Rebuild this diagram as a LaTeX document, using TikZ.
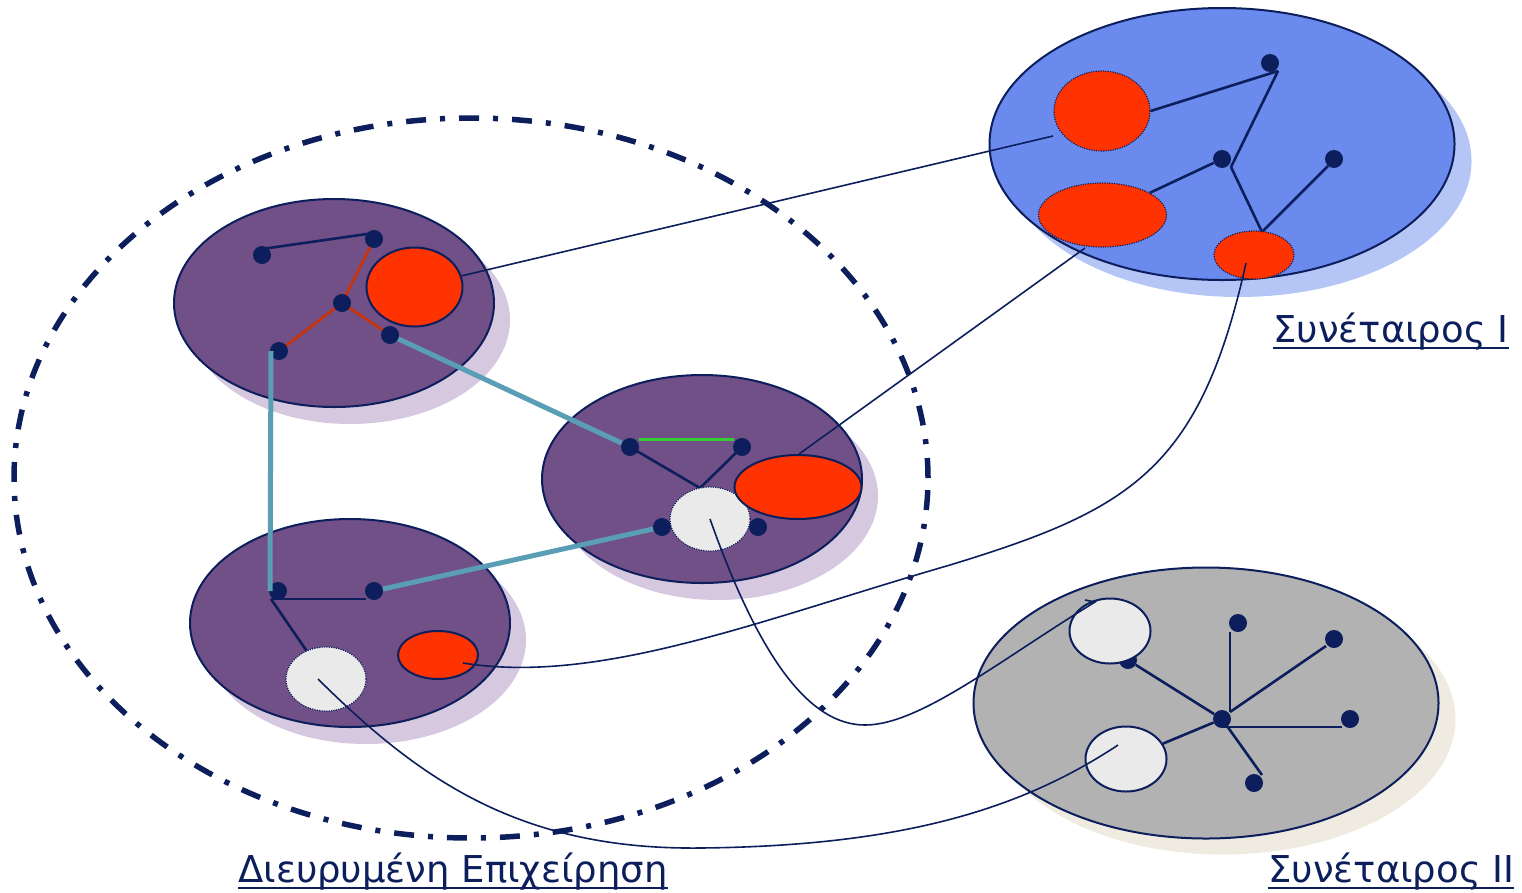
\documentclass[tikz,border=0pt]{standalone}
\usepackage{fontspec}
\setmainfont{DejaVu Sans}
\usetikzlibrary{shapes.geometric,shadows}
\definecolor{navy}{RGB}{12,30,92}
\definecolor{purp}{RGB}{113,79,135}
\definecolor{purpsh}{RGB}{214,200,223}
\definecolor{redf}{RGB}{255,51,0}
\definecolor{redl}{RGB}{204,51,0}
\definecolor{cyanl}{RGB}{90,158,181}
\definecolor{greenl}{RGB}{51,204,51}
\definecolor{bluef}{RGB}{106,138,238}
\definecolor{bluesh}{RGB}{180,197,246}
\definecolor{greyf}{RGB}{178,178,178}
\definecolor{greysh}{RGB}{239,235,224}
\definecolor{whitef}{RGB}{234,234,234}
\begin{document}
\begin{tikzpicture}[x=1pt,y=-1pt,
  blob/.style={ellipse, draw=navy, line width=2pt, inner sep=0pt},
  purpblob/.style={blob, fill=purp, minimum width=320pt, minimum height=208pt,
     drop shadow={shadow xshift=16pt, shadow yshift=-17pt, fill=purpsh, opacity=1}},
  dotted blob/.style={ellipse, draw=navy, line width=1.2pt, dash pattern=on 1.2pt off 1.2pt, inner sep=0pt},
  dotn/.style={circle, fill=navy, inner sep=0pt, minimum size=18pt},
  inl/.style={navy, line width=2.6pt},
  redln/.style={redl, line width=2.6pt},
  cyl/.style={cyanl, line width=5pt},
  conn/.style={navy, line width=1.6pt},
  lbl/.style={text=navy, font=\fontsize{37}{40}\selectfont, inner sep=0pt, anchor=base west},
  uline/.style={navy, line width=2.5pt}]
\useasboundingbox (0,0) rectangle (1522,892);

% big dash-dot ellipse
\node[ellipse, draw=navy, line width=5.5pt, dash pattern=on 20pt off 14pt on 5pt off 14pt,
      minimum width=914pt, minimum height=720pt, inner sep=0pt] (ent) at (471,478) {};

% ---------- ellipses
\node[purpblob] (tl) at (334,303) {};
\node[purpblob] (mid) at (702,479) {};
\node[purpblob] (bl) at (350,623) {};
\node[blob, fill=bluef, minimum width=465pt, minimum height=272pt,
      drop shadow={shadow xshift=17pt, shadow yshift=-17pt, fill=bluesh, opacity=1}] (tr) at (1222,144) {};
\node[blob, fill=greyf, minimum width=465pt, minimum height=271pt,
      drop shadow={shadow xshift=17pt, shadow yshift=-16pt, fill=greysh, opacity=1}] (br) at (1206,703) {};

% ---------- top-left group
\coordinate (t1) at (262,255);
\coordinate (t2) at (374,239);
\coordinate (t3) at (342,303);
\coordinate (t4) at (390,335);
\coordinate (t5) at (279,351);
\draw[inl] ([yshift=6pt]t1) -- ([yshift=6pt]t2);
\draw[redln] (t2) -- (t3);
\draw[redln] (t3) -- (t5);
\draw[redln] (t3) -- (t4);
\node[blob, fill=redf, minimum width=96pt, minimum height=79pt] (tlred) at (414.5,287) {};
\foreach \n in {t1,t2,t3,t4,t5} \node[dotn] (d\n) at (\n) {};

% ---------- middle group
\coordinate (m1) at (630,447);
\coordinate (m2) at (742,447);
\coordinate (m3) at (662,527);
\coordinate (m4) at (758,527);
\coordinate (mj) at (700,488);
\draw[greenl, line width=3pt] ([xshift=9pt,yshift=8pt]m1) -- ([xshift=-8pt,yshift=8pt]m2);
\draw[inl] (m1) -- (mj);
\draw[inl] (m2) -- (mj);
\foreach \n in {m1,m2,m3,m4} \node[dotn] (d\n) at (\n) {};
\node[dotted blob, fill=whitef, minimum width=80pt, minimum height=64pt] (mwhite) at (710,519) {};
\node[blob, fill=redf, minimum width=127pt, minimum height=64pt] (midred) at (798,487) {};

% ---------- bottom-left group
\coordinate (b1) at (278,591);
\coordinate (b2) at (374,591);
\draw[inl] ([xshift=-7pt,yshift=-8pt]b1) -- ([xshift=-8pt,yshift=-8pt]b2);
\node[dotted blob, fill=whitef, minimum width=80pt, minimum height=64pt] (bwhite) at (326,679) {};
\draw[inl] ([xshift=-7pt,yshift=-8pt]b1) -- (bwhite);
\node[blob, fill=redf, minimum width=80pt, minimum height=48pt] (bred) at (438,655) {};
\foreach \n in {b1,b2} \node[dotn] (d\n) at (\n) {};

% cyan links
\draw[cyl] (dt4) -- (dm1);
\draw[cyl] ([xshift=-8pt]dt5.center) -- ([xshift=-8pt]db1.center);
\draw[cyl] (db2) -- (dm3);

% ---------- top-right group
\node[dotn] (r1) at (1270,63) {};
\node[dotn] (r2) at (1222,159) {};
\node[dotn] (r3) at (1334,159) {};
\coordinate (rj) at (1231,167);
\coordinate (rc) at (1262,232);
\draw[inl] ([xshift=8pt,yshift=-8pt]r1.center) -- (rj);
\draw[inl] (rj) -- (rc);
\draw[inl] (rc) -- ([xshift=-6pt,yshift=-7pt]r3.center);
\node[dotted blob, fill=redf, minimum width=96pt, minimum height=80pt] (trA) at (1102,111) {};
\node[dotted blob, fill=redf, minimum width=128pt, minimum height=64pt] (trB) at (1102.5,215) {};
\node[dotted blob, fill=redf, minimum width=80pt, minimum height=48pt] (trC) at (1254,255) {};
\draw[inl] (trA.east) -- ([xshift=8pt,yshift=-8pt]r1.center);
\draw[inl] (trB) -- (r2);

% ---------- bottom-right group
\node[dotn] (h) at (1222,719) {};
\node[dotn] (g0) at (1128,660) {};
\node[dotn] (g1) at (1238,623) {};
\node[dotn] (g2) at (1334,639) {};
\node[dotn] (g3) at (1350,719) {};
\node[dotn] (g4) at (1254,783) {};
\draw[inl] (g0) -- (h);
\draw[inl] ([xshift=-8pt,yshift=-9pt]g1.center) -- ([xshift=8pt,yshift=7pt]h.center);
\draw[inl] ([xshift=-8pt,yshift=-7pt]g2.center) -- ([xshift=8pt,yshift=7pt]h.center);
\draw[inl] ([yshift=-8pt]h.center) -- ([xshift=-8pt,yshift=-8pt]g3.center);
\draw[inl] (h) -- ([xshift=8pt,yshift=8pt]g4.center);
\node[blob, fill=whitef, minimum width=81pt, minimum height=65pt] (uw) at (1110,631) {};
\node[blob, fill=whitef, minimum width=81pt, minimum height=65pt] (lw) at (1126,759) {};
\draw[inl] (lw) -- (h);

% ---------- connectors between partners
\coordinate (aend) at (1053,136);
\coordinate (bend) at (1085,248);
\coordinate (uwend) at (1095,602);
\coordinate (uwhook) at (1085,600);
\coordinate (c4s) at (463,663);
\coordinate (cend) at (1246,263);
\coordinate (bws) at (318,679);
\coordinate (lwend) at (1118,745);
\draw[conn] (tlred) -- (aend);
\draw[conn] ([xshift=1pt]midred.north) -- (bend);
\draw[conn] (mwhite.center) .. controls (760,660) and (810,725) .. (865,725)
   .. controls (920,725) and (1000,660) .. (uwend) -- (uwhook);
\draw[conn] (c4s) .. controls (600,685) and (760,620) .. (950,565)
   .. controls (1130,510) and (1200,470) .. (cend);
\draw[conn] (bws) .. controls (420,780) and (520,850) .. (700,848)
   .. controls (900,846) and (1020,810) .. (lwend);

% ---------- labels
\node[lbl] (lab1) at (1273,342) {Συνέταιρος Ι};
\draw[uline] ([yshift=-6pt]lab1.base west) -- ([yshift=-6pt]lab1.base east);
\node[lbl] (lab2) at (1268,882) {Συνέταιρος ΙΙ};
\draw[uline] ([yshift=-6pt]lab2.base west) -- ([yshift=-6pt]lab2.base east);
\node[lbl] (lab3) at (238,882) {Διευρυμένη Επιχείρηση};
\draw[uline] ([yshift=-6pt]lab3.base west) -- ([yshift=-6pt]lab3.base east);
\end{tikzpicture}
\end{document}
